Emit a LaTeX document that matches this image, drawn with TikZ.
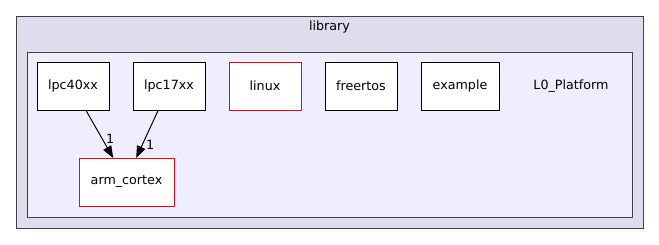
\documentclass[tikz,border=0pt]{standalone}
\usepackage{fontspec}
\setmainfont{DejaVu Sans}
\usepackage{tikz}
\usetikzlibrary{arrows.meta}
\definecolor{outerfill}{HTML}{DDDDEE}
\definecolor{innerfill}{HTML}{EEEEFF}
\definecolor{boxline}{HTML}{404040}
\tikzset{
    clusterbox/.style = {
        rectangle,
        draw=boxline,
        line width=1pt,
        inner sep=0pt,
        outer sep=0pt
    },
    dirnode/.style = {
        align=center,
        text centered,
        rectangle,
        draw=black,
        fill=white,
        line width=1pt,
        minimum width=72pt,
        minimum height=48pt,
        inner sep=1mm,
        outer sep=0mm
    },
    reddirnode/.style = {
        dirnode,
        draw=red
    },
    depedge/.style = {
        line width=1pt,
        -{Triangle[length=12pt,width=9pt]}
    }
}

\begin{document}
\begin{tikzpicture}[
                x=1pt, y=-1pt,
                font=\fontsize{12.7}{15}\selectfont
            ]
            \useasboundingbox (0,0) rectangle (659,244);
            \node [clusterbox, fill=outerfill, minimum width=627pt, minimum height=212pt] (library) at (329.5,122) {};
            \node (librarylabel) at (329.5,27) {library};
            \node [clusterbox, fill=innerfill, minimum width=605pt, minimum height=165pt] (platform) at (329.5,134.5) {};
            \node (platformlabel) at (571,86) {L0\_Platform};

            \node [dirnode] (lpc40xx) at (73,86) {lpc40xx};
            \node [dirnode] (lpc17xx) at (169,86) {lpc17xx};
            \node [reddirnode] (linux) at (265,86) {linux};
            \node [dirnode] (freertos) at (361,86) {freertos};
            \node [dirnode, minimum width=78pt] (example) at (460,86) {example};
            \node [reddirnode, minimum width=95pt] (arm_cortex) at (126.5,182) {arm\_cortex};

            \draw [depedge] (lpc40xx.-62) -- (arm_cortex.119) node [pos=0.6, right] {1};
            \draw [depedge] (lpc17xx.-114) -- (arm_cortex.68) node [pos=0.72, right] {1};
        \end{tikzpicture}
\end{document}
